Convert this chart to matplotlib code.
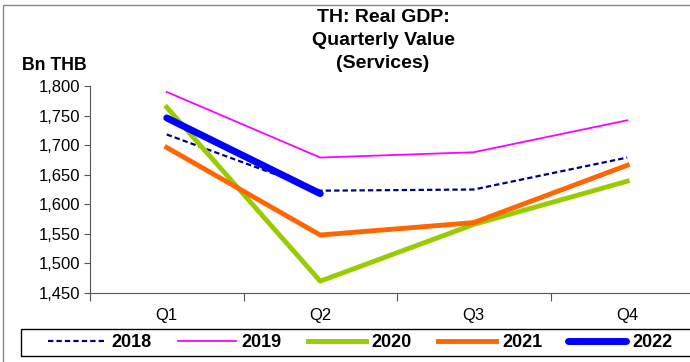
import matplotlib.pyplot as plt
from matplotlib.patches import Rectangle

plt.rcParams['font.family'] = ['Liberation Sans', 'DejaVu Sans']

quarters = ['Q1', 'Q2', 'Q3', 'Q4']
y2018 = [1718, 1623, 1625, 1679]
y2019 = [1790, 1679, 1688, 1742]
y2020 = [1764, 1470, 1566, 1639]
y2021 = [1696, 1548, 1569, 1666]
y2022 = [1746, 1618]
yticks = [1450, 1500, 1550, 1600, 1650, 1700, 1750, 1800]

fig = plt.figure(figsize=(6.9, 3.62), dpi=100)
W, H = 690, 362
ax = fig.add_axes([90 / W, 1 - 293 / H, 614 / W, 207 / H])

x = range(4)
ax.plot(x, y2018, color='#000080', lw=1.6, ls=(0, (2.4, 1.4)), label='2018')
ax.plot(x, y2019, color='#ff00ff', lw=1.3, label='2019')
ax.plot(x, y2020, color='#99cc00', lw=3.5, label='2020')
ax.plot(x, y2021, color='#ff6600', lw=3.5, label='2021')
ax.plot(range(len(y2022)), y2022, color='#0000ff', lw=5, label='2022',
        solid_capstyle='round')

ax.set_xlim(-0.5, 3.5)
ax.set_ylim(1450, 1800)
ax.set_yticks(yticks)
ax.set_yticklabels([f'{v:,}' for v in yticks], fontsize=12)
ax.set_xticks([-0.5, 0.5, 1.5, 2.5, 3.5])
ax.set_xticklabels([])
ax.set_xticks(list(x), minor=True)
ax.set_xticklabels(quarters, minor=True, fontsize=12)
ax.tick_params(axis='x', which='minor', length=0, pad=11)
ax.tick_params(axis='x', which='major', length=6, color='#555555')
ax.tick_params(axis='y', length=4, color='#555555', pad=3)
for s in ['top', 'right']:
    ax.spines[s].set_visible(False)
for s in ['left', 'bottom']:
    ax.spines[s].set_color('#555555')

fig.text(383 / W, 1 - 9 / H, 'TH: Real GDP:\nQuarterly Value\n(Services)',
         ha='center', va='top', fontsize=14, fontweight='bold', linespacing=1.45)
fig.text(22 / W, 1 - 66 / H, 'Bn THB', ha='left', va='center',
         fontsize=12.7, fontweight='bold')

leg = fig.legend(loc='center left', bbox_to_anchor=(48 / W, 1 - 342.5 / H),
                 ncol=5, frameon=False, prop={'weight': 'bold', 'size': 13},
                 handlelength=3.2, handletextpad=0.33, columnspacing=1.45,
                 borderpad=0, borderaxespad=0)

fig.patches.append(Rectangle((21 / W, 1 - 356 / H), 700 / W, 27 / H,
                             transform=fig.transFigure, fill=False,
                             edgecolor='black', lw=1))
fig.patches.append(Rectangle((3 / W, -0.1), 1.2, 1 - 5 / H + 0.1,
                             transform=fig.transFigure, fill=False,
                             edgecolor='#888888', lw=1))

fig.savefig('out.png', dpi=100)
